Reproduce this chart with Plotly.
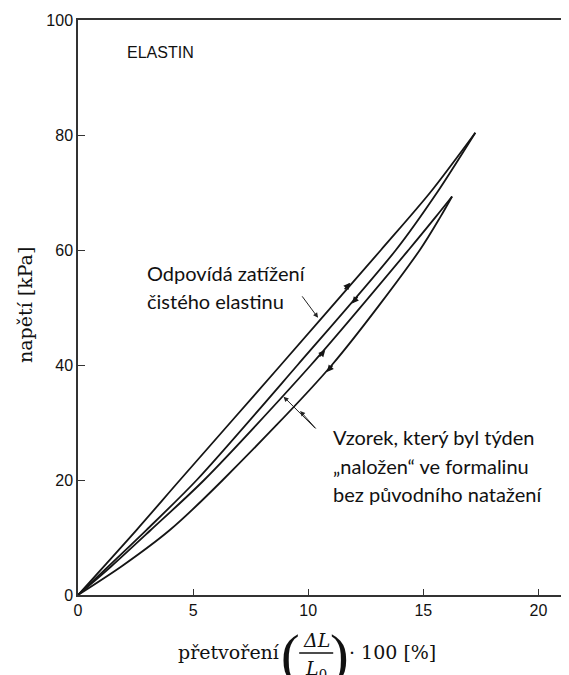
import plotly.graph_objects as go

# stress-strain loops (strain %, stress kPa)
elastin_load_x = [0, 2.54, 4.43, 8.81, 13.16, 15.3, 17.26]
elastin_load_y = [0, 11.3, 20, 40, 60, 70, 80.4]
elastin_unload_x = [0, 2.97, 5.16, 9.54, 13.81, 15.6, 17.26]
elastin_unload_y = [0, 11.3, 20, 40, 60, 70, 80.4]
formalin_load_x = [0, 1.45, 3.16, 5.48, 10.12, 14.36, 15.55, 16.25]
formalin_load_y = [0, 5, 11.3, 20, 40, 60, 65.8, 69.3]
formalin_unload_x = [0, 1.9, 3.99, 6.29, 11.03, 14.85, 15.75, 16.25]
formalin_unload_y = [0, 5, 11.3, 20, 40, 60, 65.8, 69.3]

# direction arrows on the curves: x, y, up(+1)/down(-1)
arrow_x = [11.83, 11.9, 10.74, 10.81]
arrow_y = [54.3, 50.7, 42.6, 38.8]
arrow_dir = [1, -1, 1, -1]

x_ticks = [0, 5, 10, 15, 20]
y_ticks = [0, 20, 40, 60, 80, 100]

W, H = 569, 675
OFF = 8            # page body margin of the html
L, T = 78, 20      # plot area position on screen
PW, PH = 487.6, 575


def px(x, y):
    # screen pixel position -> paper coordinates
    return (x - L) / PW, (T + PH - y) / PH


fig = go.Figure()
line = dict(color="#151515", width=1.8, shape="spline", smoothing=0.8)
for xs, ys in [(elastin_load_x, elastin_load_y), (elastin_unload_x, elastin_unload_y),
               (formalin_load_x, formalin_load_y), (formalin_unload_x, formalin_unload_y)]:
    fig.add_trace(go.Scatter(x=xs, y=ys, mode="lines", line=line, showlegend=False, hoverinfo="skip"))

ann = []
for x, y, d in zip(arrow_x, arrow_y, arrow_dir):
    ann.append(dict(x=x, y=y, xref="x", yref="y", text="", showarrow=True, arrowhead=2,
                    arrowsize=0.9, arrowwidth=1.5, arrowcolor="#151515",
                    ax=-7 * d, ay=8 * d))

# pointers
ann.append(dict(x=10.43, y=48.2, xref="x", yref="y", text="", showarrow=True, arrowhead=2,
                arrowsize=1, arrowwidth=1, arrowcolor="#222", ax=-17, ay=-23))
ann.append(dict(x=8.93, y=34.5, xref="x", yref="y", text="", showarrow=True, arrowhead=2,
                arrowsize=1, arrowwidth=1, arrowcolor="#222", ax=33, ay=33))
ann.append(dict(x=9.65, y=32.0, xref="x", yref="y", text="", showarrow=True, arrowhead=2,
                arrowsize=1, arrowwidth=1, arrowcolor="#222", ax=17, ay=19))

txt = dict(xref="x", yref="y", showarrow=False, xanchor="left", yanchor="middle",
           font=dict(family="Lato", size=20, color="#111"))
ann.append(dict(x=2.04, y=94.4, text="ELASTIN", xref="x", yref="y", showarrow=False,
                xanchor="left", yanchor="middle",
                font=dict(family="Liberation Sans", size=16, color="#111")))
ann.append(dict(x=2.91, y=56.0, text="Odpovídá zatížení", **txt))
ann.append(dict(x=2.91, y=51.1, text="čistého elastinu", **txt))
ann.append(dict(x=11.0, y=27.5, text="Vzorek, který byl týden", **txt))
ann.append(dict(x=11.0, y=22.4, text="„naložen“ ve formalinu", **txt))
ann.append(dict(x=11.0, y=17.6, text="bez původního natažení", **txt))

serif = dict(family="DejaVu Serif", size=19, color="#111")


def ptxt(x, y, text, font, xanchor="center", angle=0):
    xp, yp = px(x, y)
    return dict(x=xp, y=yp, xref="paper", yref="paper", text=text, showarrow=False,
                xanchor=xanchor, yanchor="middle", font=font, textangle=angle)


# y-axis title
ann.append(ptxt(25, 305, "napětí [kPa]", serif, angle=-90))

# x-axis title with a stacked fraction
paren = dict(family="Liberation Serif", size=56, color="#111")
ann.append(ptxt(282, 652, "přetvoření", serif, "right"))
ann.append(ptxt(290, 655, "(", paren))
ann.append(ptxt(339, 655, ")", paren))
ann.append(ptxt(316, 640, "<i>ΔL</i>", serif))
ann.append(ptxt(316, 669, "<i>L</i><sub>0</sub>", serif))
ann.append(ptxt(347, 652, "· 100 [%]", serif, "left"))

fb0 = px(299, 653)
fb1 = px(333, 653)

fig.update_layout(
    width=W, height=H,
    margin=dict(l=L - OFF, r=W - (L - OFF) - PW, t=T - OFF, b=H - (T - OFF) - PH),
    paper_bgcolor="white", plot_bgcolor="white",
    annotations=ann,
    shapes=[dict(type="line", xref="paper", yref="paper", x0=fb0[0], x1=fb1[0],
                 y0=fb0[1], y1=fb1[1], line=dict(color="#111", width=1.5))],
    xaxis=dict(range=[0, PW / 23], tickvals=x_ticks, ticks="inside", ticklen=6,
               tickcolor="#333", showline=True, linecolor="#333", linewidth=1.5,
               mirror=True, showgrid=False, zeroline=False, automargin=False,
               tickfont=dict(family="Liberation Sans", size=16, color="#111")),
    yaxis=dict(range=[0, 100], tickvals=y_ticks, ticks="inside", ticklen=7,
               tickcolor="#333", showline=True, linecolor="#333", linewidth=1.5,
               showgrid=False, zeroline=False, automargin=False,
               tickfont=dict(family="Liberation Sans", size=16, color="#111")),
)

fig.write_html("out.html")
